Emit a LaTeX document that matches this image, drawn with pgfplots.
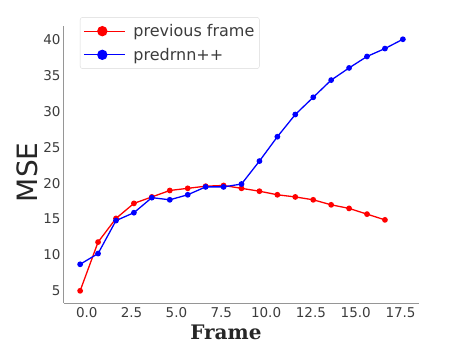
\documentclass[border=0pt]{standalone}
\usepackage{pgfplots}
\pgfplotsset{compat=1.18}
\usepackage{fontspec}
\setmainfont{DejaVu Sans}
\newfontfamily\framefont{DejaVu Serif}
\definecolor{tickgray}{RGB}{60,60,60}
\definecolor{spinegray}{RGB}{150,150,150}
\begin{document}
\begin{tikzpicture}[x=1pt,y=1pt]
\begin{axis}[
  scale only axis,
  width=355pt, height=277pt,
  xmin=-1.27, xmax=18.53,
  ymin=3.3, ymax=41.95,
  axis x line*=bottom, axis y line*=left,
  axis line style={spinegray, line width=1pt, -},
  xtick={0,2.5,5,7.5,10,12.5,15,17.5},
  xticklabels={0.0,2.5,5.0,7.5,10.0,12.5,15.0,17.5},
  ytick={5,10,15,20,25,30,35,40},
  major tick length=0pt,
  /pgf/number format/assume math mode=true,
  tick label style={font=\fontsize{13.5}{15}\selectfont, text=tickgray},
  xticklabel style={yshift=-1pt},
  yticklabel style={xshift=0pt},
  xlabel={\framefont\bfseries Frame},
  xlabel style={at={(axis description cs:0.456,-0.106)}, anchor=center, font=\fontsize{20}{22}\selectfont, text=black!85},
  ylabel={MSE},
  ylabel style={at={(axis description cs:-0.104,0.472)}, anchor=center, rotate=0, font=\fontsize{28}{30}\selectfont, text=black!85},
  legend style={at={(axis description cs:0.045,1.032)}, anchor=north west,
    draw=black!15, rounded corners=2.5pt, font=\fontsize{16}{18}\selectfont, text=tickgray,
    inner xsep=3pt, inner ysep=5pt, row sep=6pt,
    /tikz/every odd column/.append style={column sep=6pt}},
  legend cell align=left,
  legend image code/.code={
    \path (-3pt,0pt) -- (38pt,0pt);
    \draw[#1, line width=1.3pt] (-1pt,0pt) -- (32pt,0pt);
    \fill[#1] (15.5pt,0pt) circle (4.5pt);
  },
  clip=false,
]
\addplot[red, line width=1.3pt, mark=*, mark size=2.2pt] coordinates {
(-0.37,5.0) (0.63,11.8) (1.63,15.1) (2.63,17.2) (3.63,18.1) (4.63,19.0)
(5.63,19.3) (6.63,19.6) (7.63,19.7) (8.63,19.3) (9.63,18.9) (10.63,18.4)
(11.63,18.1) (12.63,17.7) (13.63,17.0) (14.63,16.5) (15.63,15.7) (16.63,14.9)
};
\addlegendentry{previous frame}
\addplot[blue, line width=1.3pt, mark=*, mark size=2.2pt] coordinates {
(-0.37,8.7) (0.63,10.2) (1.63,14.8) (2.63,15.9) (3.63,18.0) (4.63,17.7)
(5.63,18.4) (6.63,19.5) (7.63,19.5) (8.63,19.9) (9.63,23.1) (10.63,26.5)
(11.63,29.6) (12.63,32.0) (13.63,34.4) (14.63,36.1) (15.63,37.7) (16.63,38.8)
(17.63,40.1)
};
\addlegendentry{predrnn++}
\end{axis}
\path (current axis.south west) ++(-64pt,-40.3pt) coordinate (bl);
\path (current axis.north east) ++(40pt,26pt) coordinate (tr);
\useasboundingbox (bl) rectangle (tr);
\end{tikzpicture}
\end{document}
